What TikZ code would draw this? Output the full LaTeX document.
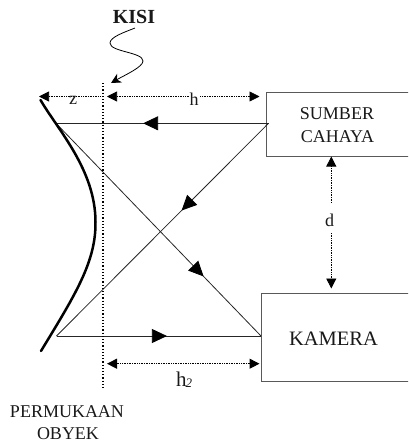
\documentclass[tikz,border=0pt]{standalone}
\usepackage{fontspec}
\setmainfont{Liberation Serif}
\usetikzlibrary{arrows.meta,decorations.markings}
\newcommand{\fs}[1]{\fontsize{#1}{#1}\selectfont}
\tikzset{
  x=1pt,y=-1pt,
  box/.style={draw=black!65,line width=1.1pt,minimum width=0,inner sep=0,anchor=north west},
  ray/.style={draw=black!85,line width=.8pt},
  dim/.style={draw=black,line width=.7pt,densely dotted,{Triangle[length=10pt,width=10pt]}-{Triangle[length=10pt,width=10pt]}},
  dimone/.style={draw=black,line width=.7pt,densely dotted},
  mid/.style={postaction={decorate,decoration={markings,mark=at position #1 with {\arrow[black]{Triangle[length=15pt,width=14pt]}}}}},
  lab/.style={inner sep=0,align=center,text=black!90}
}
\begin{document}
\begin{tikzpicture}
\useasboundingbox (0,0) rectangle (408,445);
\clip (0,0) rectangle (408,445);
% boxes
\node[box,minimum width=150pt,minimum height=64pt] (sumber) at (265.7,91.7) {};
\node[box,minimum width=155pt,minimum height=87.5pt] (kamera) at (261,293) {};
% reflection points on the surface
\coordinate (rt) at (56,123.3);
\coordinate (rb) at (56.5,336);
\coordinate (st) at (268.5,123.3);
\coordinate (kb) at (261,336);
% rays
\draw[ray,mid=0.59] (st) -- (rt);
\draw[ray,mid=0.41] (st) -- (rb);
\draw[ray,mid=0.72] (rt) -- (kb);
\draw[ray,mid=0.54] (rb) -- (kb);
% surface
\coordinate (s0) at (40.5,100);
\coordinate (s1) at (95.5,222);
\coordinate (s2) at (41,351);
\draw[line width=2.5pt,line cap=round] (s0) .. controls (58,130) and (95.5,170) .. (s1)
  .. controls (96,262) and (75,295) .. (s2);
% grid line
\coordinate (g0) at (103,83);
\coordinate (g1) at (103,388);
\draw[line width=1.2pt,dotted] (g0) -- (g1);
% dimension z
\coordinate (z0) at (39,96.5);
\coordinate (z1) at (101,96.5);
\draw[dimone,{Triangle[length=10pt,width=10pt]}-] (z0) -- (z1);
\node[lab,font=\fs{18}] (zl) at (73,100.5) {z};
% dimension h
\coordinate (h0) at (107,96.5);
\coordinate (h1) at (259.5,96.5);
\draw[dim] (h0) -- (h1);
\node[lab,font=\fs{18},fill=white,inner xsep=1pt] (hl) at (194,99.5) {h};
% dimension h2
\coordinate (b0) at (107,363.7);
\coordinate (b1) at (259.5,363.7);
\draw[dim,line width=1pt] (b0) -- (b1);
\node[lab,font=\fs{21}] (bl) at (184,379.5) {h\kern-1pt\raisebox{-1.5pt}{\fs{13}\itshape 2}};
% dimension d
\coordinate (d0) at (331.3,156.5);
\coordinate (d1) at (331.3,288.5);
\node[lab,font=\fs{18}] (dl) at (329.5,220) {d};
\draw[dimone,{Triangle[length=10pt,width=10pt]}-] (d0) -- (331.3,203);
\draw[dimone,-{Triangle[length=10pt,width=10pt]}] (331.3,233) -- (d1);
% KISI pointer
\coordinate (k0) at (135,28);
\coordinate (k1) at (111,83);
\draw[line width=.8pt,-{Stealth[length=10pt,width=10pt]}] (k0) .. controls (125,32) and (110,37) .. (110,43)
  .. controls (110,52) and (143,52) .. (143,61)
  .. controls (143,67) and (125,75) .. (k1);
% texts
\node[lab,font=\fs{20}\bfseries] (kisi) at (134,16.5) {KISI};
\node[lab,font=\fs{18}] (t1) at (337,114) {SUMBER};
\node[lab,font=\fs{18}] (t2) at (337.5,136.5) {CAHAYA};
\node[lab,font=\fs{20.5}] (t3) at (333.5,338.5) {KAMERA};
\node[lab,font=\fs{18}] (t4) at (67,412) {PERMUKAAN};
\node[lab,font=\fs{18}] (t5) at (68,434) {OBYEK};
\end{tikzpicture}
\end{document}
